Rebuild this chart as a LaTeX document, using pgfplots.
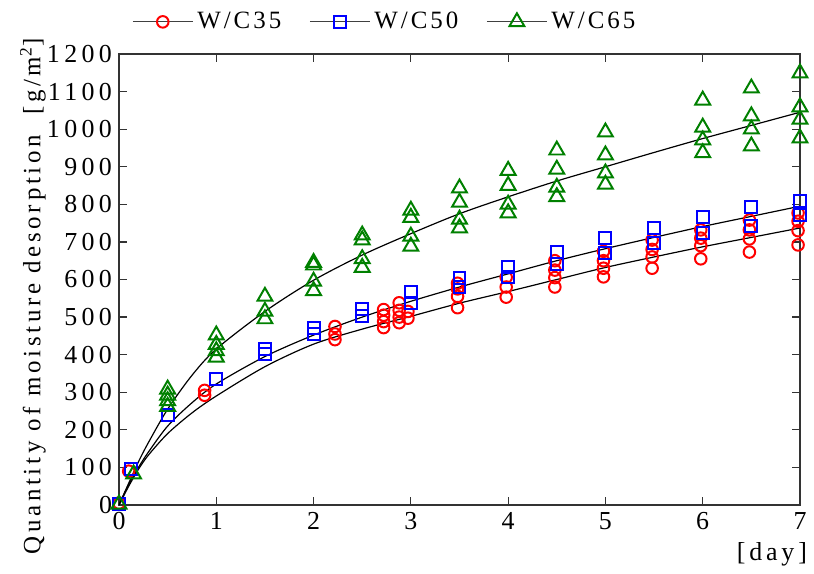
\documentclass[border=0pt]{standalone}
\usepackage{fontspec}
\setmainfont{Liberation Serif}
\newfontfamily\spaced{Liberation Serif}[LetterSpace=15]
\newfontfamily\tickfont{Liberation Serif}[LetterSpace=17]
\newfontfamily\legfont{Liberation Serif}[LetterSpace=12]
\usepackage{pgfplots}
\pgfplotsset{compat=1.18}

\definecolor{c35}{HTML}{FF0000}
\definecolor{c50}{HTML}{0000FF}
\definecolor{c65}{HTML}{008000}

\begin{document}
\begin{tikzpicture}
\begin{axis}[
  name=main,
  scale only axis,
  width=340.5bp, height=225.5bp,
  xmin=0, xmax=7, ymin=0, ymax=1200,
  xtick={0,1,...,7}, ytick={0,100,...,1200},
  tick align=inside, tick pos=both,
  major tick length=4bp,
  axis line style={black!80, line width=0.6pt},
  every tick/.style={black!80, line width=0.6pt},
  tick label style={font=\tickfont\fontsize{13}{15}\selectfont},
  /pgf/number format/assume math mode=true,
  /pgf/number format/1000 sep={},
  ylabel={Quantity of moisture desorption\ \ [g/m\textsuperscript{2}]},
  every axis y label/.style={at={(axis description cs:-0.1265,0.462)}, rotate=90, anchor=center,
    font=\spaced\fontsize{12.5}{14}\selectfont},
  xlabel={[day]},
  every axis x label/.style={font=\spaced\fontsize{13}{15}\selectfont,
    at={(axis description cs:1,0)}, anchor=north east, yshift=-15bp, xshift=7bp},
  legend columns=3,
  legend style={at={(axis description cs:0.01,1)}, anchor=south west, yshift=7bp,
    draw=none, fill=none, font=\legfont\fontsize{12.5}{14}\selectfont,
    /tikz/every even column/.append style={column sep=12bp}},
  legend image code/.code={
    \draw[black!75, line width=0.6pt] (0bp,0bp) -- (30bp,0bp);
    \draw[mark repeat=2, mark phase=2, #1] plot coordinates {(0bp,0bp) (15bp,0bp) (30bp,0bp)};
  },
]
\addplot[only marks, mark=o, mark size=2.9pt, c35, line width=1pt] coordinates {
(0,5) (0.1,90)
(0.88,305) (0.88,292)
(2.22,475) (2.22,455) (2.22,440)
(2.72,520) (2.72,505) (2.72,488) (2.72,472)
(2.88,538) (2.88,518) (2.88,500) (2.88,485)
(2.97,515) (2.97,497)
(3.48,590) (3.48,575) (3.48,555) (3.48,525)
(3.98,606) (3.98,580) (3.98,553)
(4.48,650) (4.48,625) (4.48,605) (4.48,580)
(4.98,675) (4.98,650) (4.98,630) (4.98,607)
(5.48,705) (5.48,680) (5.48,660) (5.48,630)
(5.98,732) (5.98,710) (5.98,690) (5.98,655)
(6.48,758) (6.48,732) (6.48,708) (6.48,673)
(6.98,777) (6.98,755) (6.98,730) (6.98,692)
};
\addlegendentry{W/C35}
\addplot[only marks, mark=square, mark size=3pt, c50, line width=1pt] coordinates {
(0,3) (0.12,95)
(0.5,239) (1,335)
(1.5,415) (1.5,402)
(2,472) (2,455)
(2.5,521) (2.5,503)
(3,567) (3,538)
(3.5,604) (3.5,580)
(4,633) (4,606)
(4.5,673) (4.5,640)
(5,710) (5,670)
(5.5,737) (5.5,697)
(6,766) (6,723)
(6.5,793) (6.5,742)
(7,809) (7,771)
};
\addlegendentry{W/C50}
\addplot[only marks, mark=triangle, mark size=4.3pt, c65, line width=1pt] coordinates {
(0,2) (0.15,82)
(0.5,308) (0.5,292) (0.5,277) (0.5,262)
(1,452) (1,427) (1,410) (1,393)
(1.5,555) (1.5,515) (1.5,495)
(2,645) (2,638) (2,595) (2,570)
(2.5,718) (2.5,705) (2.5,655) (2.5,632)
(3,784) (3,765) (3,715) (3,688)
(3.5,843) (3.5,805) (3.5,760) (3.5,737)
(4,890) (4,850) (4,800) (4,777)
(4.5,944) (4.5,893) (4.5,845) (4.5,820)
(5,992) (5,931) (5,883) (5,853)
(6,1077) (6,1005) (6,971) (6,937)
(6.5,1109) (6.5,1035) (6.5,1000) (6.5,955)
(7,1149) (7,1059) (7,1026) (7,976)
};
\addlegendentry{W/C65}
% fitted curves
\addplot[black, line width=0.6pt, smooth, forget plot] coordinates {
(0,0) (0.1,50) (0.2,95) (0.3,132) (0.5,190) (0.75,245) (1,290) (1.5,368) (2,428)
(2.5,468) (3,502) (3.5,537) (4,568) (4.5,600) (5,632) (5.5,660) (6,687) (6.5,712) (7,737)
};
\addplot[black, line width=0.6pt, smooth, forget plot] coordinates {
(0,0) (0.1,55) (0.2,100) (0.3,140) (0.5,210) (0.75,272) (1,322) (1.5,395) (2,452)
(2.5,500) (3,542) (3.5,580) (4,615) (4.5,650) (5,682) (5.5,712) (6,741) (6.5,768) (7,795)
};
\addplot[black, line width=0.6pt, smooth, forget plot] coordinates {
(0,0) (0.1,58) (0.2,115) (0.3,165) (0.5,255) (0.75,345) (1,415) (1.5,515) (2,598)
(2.5,665) (3,722) (3.5,775) (4,820) (4.5,862) (5,900) (5.5,938) (6,975) (6.5,1010) (7,1045)
};
\end{axis}
\path ([xshift=-59.5bp,yshift=-34.5bp]main.south west) rectangle ([xshift=7bp,yshift=27bp]main.north east);
\end{tikzpicture}
\end{document}
